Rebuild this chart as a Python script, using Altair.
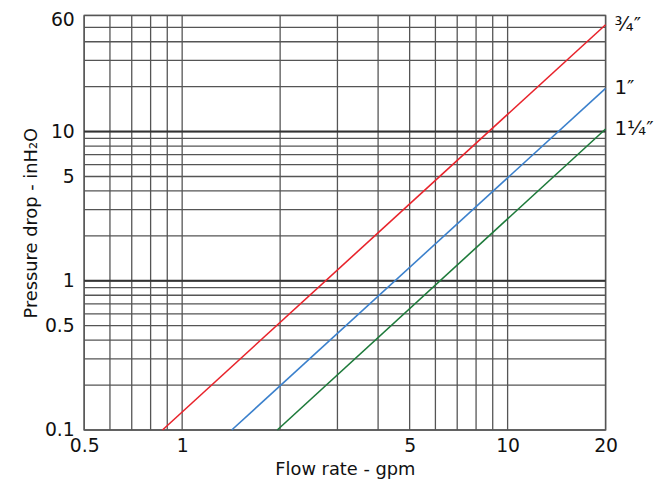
import altair as alt
import pandas as pd

# Data
series = ["3/4", "1", "1 1/4"]
labels = ["¾″", "1″", "1¼″"]
colors = ["#e8232b", "#3b80cc", "#1d7a3a"]
q_start = [0.87, 1.42, 1.96]
p_start = [0.1, 0.1, 0.1]
q_end = [20, 20, 20]
p_end = [52, 19.5, 10.4]

x_grid = [0.5, 0.6, 0.7, 0.8, 0.9, 1, 2, 3, 4, 5, 6, 7, 8, 9, 10, 20]
y_grid = [0.1, 0.2, 0.3, 0.4, 0.5, 0.6, 0.7, 0.8, 0.9, 1, 2, 3, 4, 5, 6, 7, 8, 9, 10,
          20, 30, 40, 50, 60]
y_major = [1, 10]
x_ticks = [0.5, 1, 5, 10, 20]
y_ticks = [0.1, 0.5, 1, 5, 10, 60]

rows = []
for s, a, b, c, d in zip(series, q_start, p_start, q_end, p_end):
    rows.append({"series": s, "q": a, "p": b, "ord": 0})
    rows.append({"series": s, "q": c, "p": d, "ord": 1})
lines_df = pd.DataFrame(rows)
lab_df = pd.DataFrame({"series": series, "label": labels, "q": q_end, "p": p_end})
xg = pd.DataFrame({"v": x_grid})
yg = pd.DataFrame({"v": y_grid})
ym = pd.DataFrame({"v": y_major})

FONT = "DejaVu Sans"
xs = alt.Scale(type="log", domain=[0.5, 20], nice=False)
ys = alt.Scale(type="log", domain=[0.1, 60], nice=False)

xgrid = alt.Chart(xg).mark_rule(color="#555", strokeWidth=1.3).encode(
    x=alt.X("v:Q", scale=xs))
ygrid = alt.Chart(yg).mark_rule(color="#555", strokeWidth=1.3).encode(
    y=alt.Y("v:Q", scale=ys))
ymaj = alt.Chart(ym).mark_rule(color="#333", strokeWidth=2).encode(
    y=alt.Y("v:Q", scale=ys))

lines = alt.Chart(lines_df).mark_line(strokeWidth=1.6).encode(
    x=alt.X("q:Q", scale=xs,
            axis=alt.Axis(values=x_ticks, grid=False, ticks=False, domain=False,
                          labelPadding=7, labelFontSize=19, labelFont=FONT,
                          labelColor="#111", format="~g", labelFlush=False,
                          labelOverlap=False,
                          title="Flow rate - gpm", titleFontSize=18,
                          titleFont=FONT, titleFontWeight="normal",
                          titleColor="#111", titlePadding=5)),
    y=alt.Y("p:Q", scale=ys,
            axis=alt.Axis(values=y_ticks, grid=False, ticks=False, domain=False,
                          labelPadding=10, labelFontSize=19, labelFont=FONT,
                          labelColor="#111", format="~g", labelFlush=False,
                          labelOverlap=False,
                          labelOffset={"condition": {"test": "datum.value >= 60",
                                                     "value": 4}, "value": 0},
                          title="Pressure drop - inH₂O", titleFontSize=18,
                          titleFont=FONT, titleFontWeight="normal",
                          titleColor="#111", titlePadding=4)),
    color=alt.Color("series:N", scale=alt.Scale(domain=series, range=colors),
                    legend=None),
    order="ord:Q",
)

texts = alt.Chart(lab_df).mark_text(align="left", dx=9, fontSize=20, font=FONT,
                                    color="#111").encode(
    x=alt.X("q:Q", scale=xs),
    y=alt.Y("p:Q", scale=ys),
    text="label:N",
)

chart = alt.layer(xgrid, ygrid, ymaj, lines, texts).properties(
    width=527, height=419,
    autosize=alt.AutoSizeParams(type="none"),
    padding={"left": 77, "top": 5, "right": 55, "bottom": 50},
).configure_view(stroke="#666", strokeWidth=1.5)

chart.save("out.html", embed_options={"renderer": "svg", "actions": False})
